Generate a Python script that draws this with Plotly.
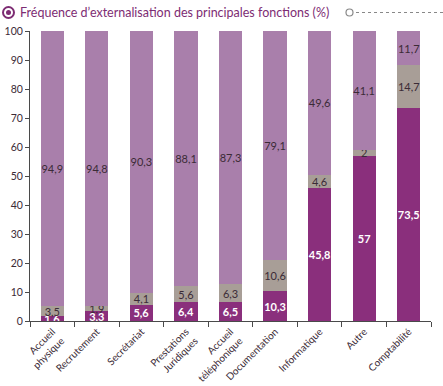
import plotly.graph_objects as go

categories = ["Accueil<br>physique", "Recrutement", "Secrétariat", "Prestations<br>Juridiques",
              "Accueil<br>téléphonique", "Documentation", "Informatique", "Autre", "Comptabilité"]
bottom_vals = [1.6, 3.3, 5.6, 6.4, 6.5, 10.3, 45.8, 57, 73.5]
middle_vals = [3.5, 1.9, 4.1, 5.6, 6.3, 10.6, 4.6, 2, 14.7]
top_vals = [94.9, 94.8, 90.3, 88.1, 87.3, 79.1, 49.6, 41.1, 11.7]
y_ticks = [0, 10, 20, 30, 40, 50, 60, 70, 80, 90, 100]

title = "Fréquence d\u2019externalisation des principales fonctions (%)"

C_DARK = "#8a2f7c"
C_GREY = "#a89e97"
C_LIGHT = "#a97fab"
TXT = "#3b2b36"
FONT = "Lato"


def fmt(v):
    s = ("%g" % v)
    return s.replace(".", ",")


fig = go.Figure()
for vals, col, tcol, wt in [(bottom_vals, C_DARK, "white", 700),
                            (middle_vals, C_GREY, TXT, 400),
                            (top_vals, C_LIGHT, TXT, 400)]:
    fig.add_trace(go.Bar(
        x=categories, y=vals, marker=dict(color=col, line=dict(width=0)),
        text=[fmt(v) for v in vals], textposition="inside", insidetextanchor="middle",
        textangle=0, textfont=dict(color=tcol, size=11, family=FONT, weight=wt),
        hoverinfo="skip", width=0.52,
    ))

fig.update_layout(
    barmode="stack", width=443, height=386, showlegend=False,
    plot_bgcolor="white", paper_bgcolor="white",
    margin=dict(l=30, r=12, t=31, b=65),
    uniformtext=dict(minsize=11, mode="show"),
    font=dict(family=FONT, color=TXT, size=11),
)
fig.update_yaxes(range=[0, 100], tickvals=y_ticks, showgrid=False, zeroline=False,
                 showline=True, linecolor="#4a4a4a", linewidth=1, ticks="outside",
                 ticklen=4, tickcolor="#4a4a4a", tickfont=dict(size=10.5, color=TXT),
                 automargin=False)
fig.update_xaxes(showgrid=False, showline=True, linecolor="#4a4a4a", linewidth=1,
                 ticks="outside", tickson="boundaries", ticklen=5, tickcolor="#4a4a4a",
                 tickangle=-45, tickfont=dict(size=10, color=TXT), automargin=False)

# title annotation
fig.add_annotation(x=0, y=1, xref="paper", yref="paper", xanchor="left", yanchor="bottom",
                   xshift=-12, yshift=9, text=title, showarrow=False,
                   font=dict(family=FONT, size=12.5, color="#7d2c73"))
# icon
fig.add_shape(type="circle", xref="paper", yref="paper", xsizemode="pixel", ysizemode="pixel",
              xanchor=0, yanchor=1, x0=-27, x1=-16, y0=13, y1=24,
              fillcolor="white", line=dict(color="#7d2c73", width=2))
fig.add_shape(type="circle", xref="paper", yref="paper", xsizemode="pixel", ysizemode="pixel",
              xanchor=0, yanchor=1, x0=-24, x1=-19, y0=16, y1=21,
              fillcolor="#7d2c73", line=dict(color="#7d2c73", width=0))
# small circle + dotted line
fig.add_shape(type="circle", xref="paper", yref="paper", xsizemode="pixel", ysizemode="pixel",
              xanchor=0, yanchor=1, x0=316, x1=323, y0=15, y1=22,
              fillcolor="white", line=dict(color="#888", width=1.2))
fig.add_shape(type="line", xref="paper", yref="paper", xsizemode="pixel", ysizemode="pixel",
              xanchor=0, yanchor=1, x0=326, x1=413, y0=18.5, y1=18.5,
              line=dict(color="#888", width=1, dash="dot"))

fig.write_html("out.html", config={"displayModeBar": False},
               post_script="document.body.style.margin='0';document.body.style.padding='0';")
